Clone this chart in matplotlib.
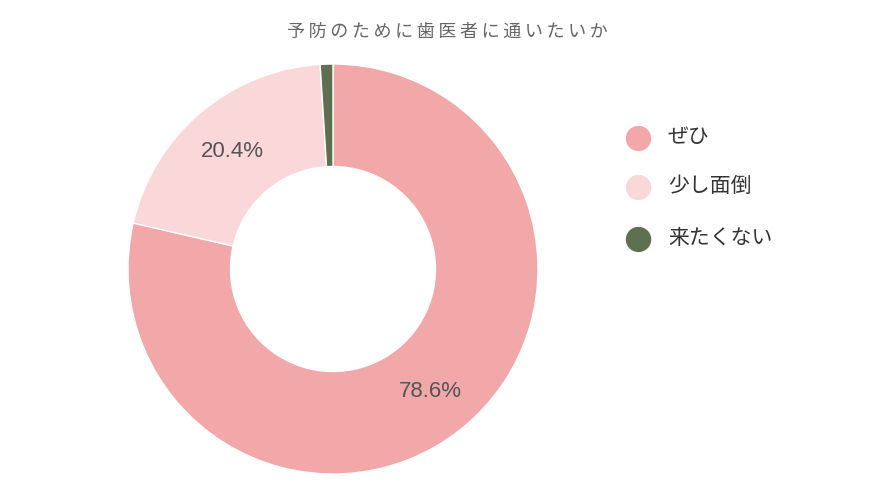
import matplotlib.pyplot as plt

plt.rcParams['font.family'] = ['Noto Sans CJK JP', 'DejaVu Sans']

labels = ['ぜひ', '少し面倒', '来たくない']
values = [78.6, 20.4, 1.0]
colors = ['#f2a7a8', '#fad7d9', '#5e7050']


def main():
    fig = plt.figure(figsize=(8.94, 5.02), dpi=100)
    fig.text(0.5, 1 - 32 / 502, '予 防 の た め に 歯 医 者 に 通 い た い か'.replace(' ', '\u2009'),
             ha='center', va='center', fontsize=13, color='#666666',
             family=['Noto Sans CJK JP', 'DejaVu Sans'])

    # donut
    ax = fig.add_axes([(333 - 205) / 894, (232 - 205) / 502, 410 / 894, 410 / 502])
    wedges, texts, autotexts = ax.pie(
        values, colors=colors, startangle=90, counterclock=False,
        wedgeprops=dict(width=0.5, edgecolor='white', linewidth=1),
        autopct=lambda p: f'{p:.1f}%' if p > 5 else '', pctdistance=0.76,
    )
    for t in autotexts:
        t.set_color('#555555')
        t.set_fontsize(16)
        t.set_family('Liberation Sans')
    ax.set_xlim(-1, 1)
    ax.set_ylim(-1, 1)
    ax.set_aspect('equal')

    # legend
    for i, (l, c) in enumerate(zip(labels, colors)):
        y = 1 - [137, 186, 238][i] / 502
        fig.text(638 / 894, y, '●', color=c, fontsize=24, ha='center', va='center',
                 family='DejaVu Sans')
        fig.text(668 / 894, y, l, color='#333333', fontsize=15, ha='left', va='center')

    fig.savefig('out.png', dpi=100)


if __name__ == '__main__':
    main()
